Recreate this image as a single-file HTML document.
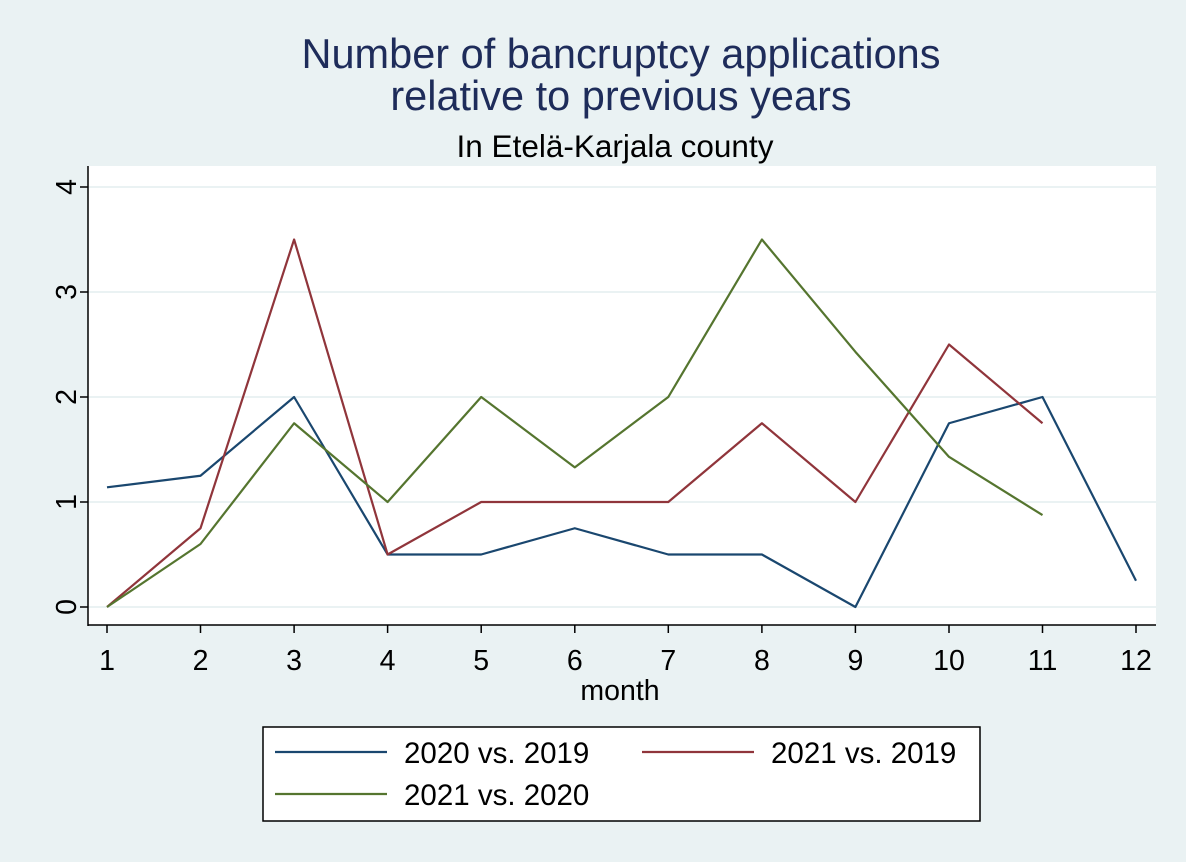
<!DOCTYPE html>
<html><head><style>
html,body{margin:0;padding:0;background:#eaf2f3;}
svg{display:block;font-family:"Liberation Sans",Arial,sans-serif;}
</style></head><body>
<svg width="1186" height="862" viewBox="0 0 1186 862" xmlns="http://www.w3.org/2000/svg">
<rect width="1186" height="862" fill="#eaf2f3"/>
<text x="621" y="68" text-anchor="middle" font-size="41.5" fill="#1e2c5a">Number of bancruptcy applications</text>
<text x="621" y="110" text-anchor="middle" font-size="41.5" fill="#1e2c5a">relative to previous years</text>
<text x="615" y="157" text-anchor="middle" font-size="31.5" fill="#000">In Etelä-Karjala county</text>
<rect x="88" y="166" width="1068" height="459" fill="#fff"/>
<g stroke="#eaf2f3" stroke-width="2">
<line x1="88" y1="187" x2="1156" y2="187"/><line x1="88" y1="292" x2="1156" y2="292"/>
<line x1="88" y1="397" x2="1156" y2="397"/><line x1="88" y1="502" x2="1156" y2="502"/>
<line x1="88" y1="607" x2="1156" y2="607"/>
</g>
<g stroke="#000" stroke-width="1.5">
<line x1="88" y1="166" x2="88" y2="626"/><line x1="88" y1="625" x2="1156" y2="625"/>
<line x1="80" y1="187" x2="88" y2="187"/><line x1="80" y1="292" x2="88" y2="292"/>
<line x1="80" y1="397" x2="88" y2="397"/><line x1="80" y1="502" x2="88" y2="502"/>
<line x1="80" y1="607" x2="88" y2="607"/>
<line x1="107" y1="625" x2="107" y2="633"/><line x1="200.5" y1="625" x2="200.5" y2="633"/>
<line x1="294.1" y1="625" x2="294.1" y2="633"/><line x1="387.6" y1="625" x2="387.6" y2="633"/>
<line x1="481.2" y1="625" x2="481.2" y2="633"/><line x1="574.8" y1="625" x2="574.8" y2="633"/>
<line x1="668.3" y1="625" x2="668.3" y2="633"/><line x1="761.9" y1="625" x2="761.9" y2="633"/>
<line x1="855.4" y1="625" x2="855.4" y2="633"/><line x1="949" y1="625" x2="949" y2="633"/>
<line x1="1042.5" y1="625" x2="1042.5" y2="633"/><line x1="1136" y1="625" x2="1136" y2="633"/>
</g>
<g font-size="28.5" fill="#000" text-anchor="middle">
<text transform="translate(76,187) rotate(-90)">4</text>
<text transform="translate(76,292) rotate(-90)">3</text>
<text transform="translate(76,397) rotate(-90)">2</text>
<text transform="translate(76,502) rotate(-90)">1</text>
<text transform="translate(76,607) rotate(-90)">0</text>
<text x="107" y="670">1</text><text x="200.5" y="670">2</text><text x="294.1" y="670">3</text>
<text x="387.6" y="670">4</text><text x="481.2" y="670">5</text><text x="574.8" y="670">6</text>
<text x="668.3" y="670">7</text><text x="761.9" y="670">8</text><text x="855.4" y="670">9</text>
<text x="949" y="670">10</text><text x="1042.5" y="670">11</text><text x="1136" y="670">12</text>
<text x="620" y="700">month</text>
</g>
<g fill="none" stroke-width="2.2" stroke-linejoin="round">
<polyline stroke="#1a476f" points="107,487.3 200.5,475.75 294.1,397 387.6,554.5 481.2,554.5 574.8,528.25 668.3,554.5 761.9,554.5 855.4,607 949,423.25 1042.5,397 1136,580.75"/>
<polyline stroke="#90353b" points="107,607 200.5,528.25 294.1,239.5 387.6,554.5 481.2,502 574.8,502 668.3,502 761.9,423.25 855.4,502 949,344.5 1042.5,423.25"/>
<polyline stroke="#55752f" points="107,607 200.5,544 294.1,423.25 387.6,502 481.2,397 574.8,467.35 668.3,397 761.9,239.5 855.4,351.85 949,456.85 1042.5,515.1"/>
</g>
<rect x="263" y="727" width="717" height="94" fill="#fff" stroke="#000" stroke-width="1.5"/>
<line x1="275" y1="752" x2="387" y2="752" stroke="#1a476f" stroke-width="2.2"/>
<line x1="642" y1="752" x2="754" y2="752" stroke="#90353b" stroke-width="2.2"/>
<line x1="275" y1="794" x2="387" y2="794" stroke="#55752f" stroke-width="2.2"/>
<g font-size="29.5" fill="#000">
<text x="404" y="763">2020 vs. 2019</text>
<text x="771" y="763">2021 vs. 2019</text>
<text x="404" y="805">2021 vs. 2020</text>
</g>
</svg>
</body></html>
